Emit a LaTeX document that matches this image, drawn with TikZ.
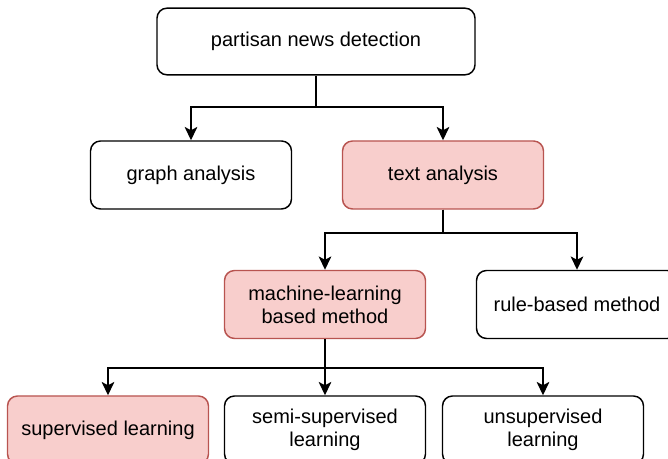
\documentclass[tikz,border=0pt]{standalone}
\usepackage{fontspec}
\setmainfont{Liberation Sans}
\usetikzlibrary{arrows.meta}
\definecolor{pinkfill}{HTML}{F8CECC}
\definecolor{pinkline}{HTML}{B85450}
\tikzset{
  box/.style={draw=black, line width=1.1pt, rounded corners=7.5pt, fill=white,
    minimum width=150.75pt, minimum height=51pt, align=center, inner sep=2pt,
    font=\fontsize{15pt}{17.25pt}\selectfont},
  hot/.style={box, draw=pinkline, fill=pinkfill},
  conn/.style={line width=1.1pt, -{Stealth[length=10pt,width=9.5pt,inset=2.5pt]}}
}
\begin{document}
\begin{tikzpicture}[x=0.75pt,y=-0.75pt]
\useasboundingbox (0,0) rectangle (668,459);
\clip (0,0) rectangle (668,459);
\node[box, minimum width=238.5pt, minimum height=50pt] (root) at (316,41.5) {partisan news detection};
\node[box] (graph) at (191,175) {graph analysis};
\node[hot] (text) at (443,175) {text analysis};
\node[hot] (ml) at (325,304.5) {machine-learning\\based method};
\node[box] (rule) at (577,304.5) {rule-based method};
\node[hot] (sup) at (108,430) {supervised learning};
\node[box] (semi) at (325,430) {semi-supervised\\learning};
\node[box] (unsup) at (543,430) {unsupervised\\learning};
\coordinate (b1) at (316,107);
\coordinate (b2) at (443,233);
\coordinate (b3) at (325,368);
\draw[conn] (root.south) -- (b1) -| (graph.north);
\draw[conn] (root.south) -- (b1) -| (text.north);
\draw[conn] (text.south) -- (b2) -| (ml.north);
\draw[conn] (text.south) -- (b2) -| (rule.north);
\draw[conn] (ml.south) -- (b3) -| (sup.north);
\draw[conn] (ml.south) -- (semi.north);
\draw[conn] (ml.south) -- (b3) -| (unsup.north);
\end{tikzpicture}
\end{document}
